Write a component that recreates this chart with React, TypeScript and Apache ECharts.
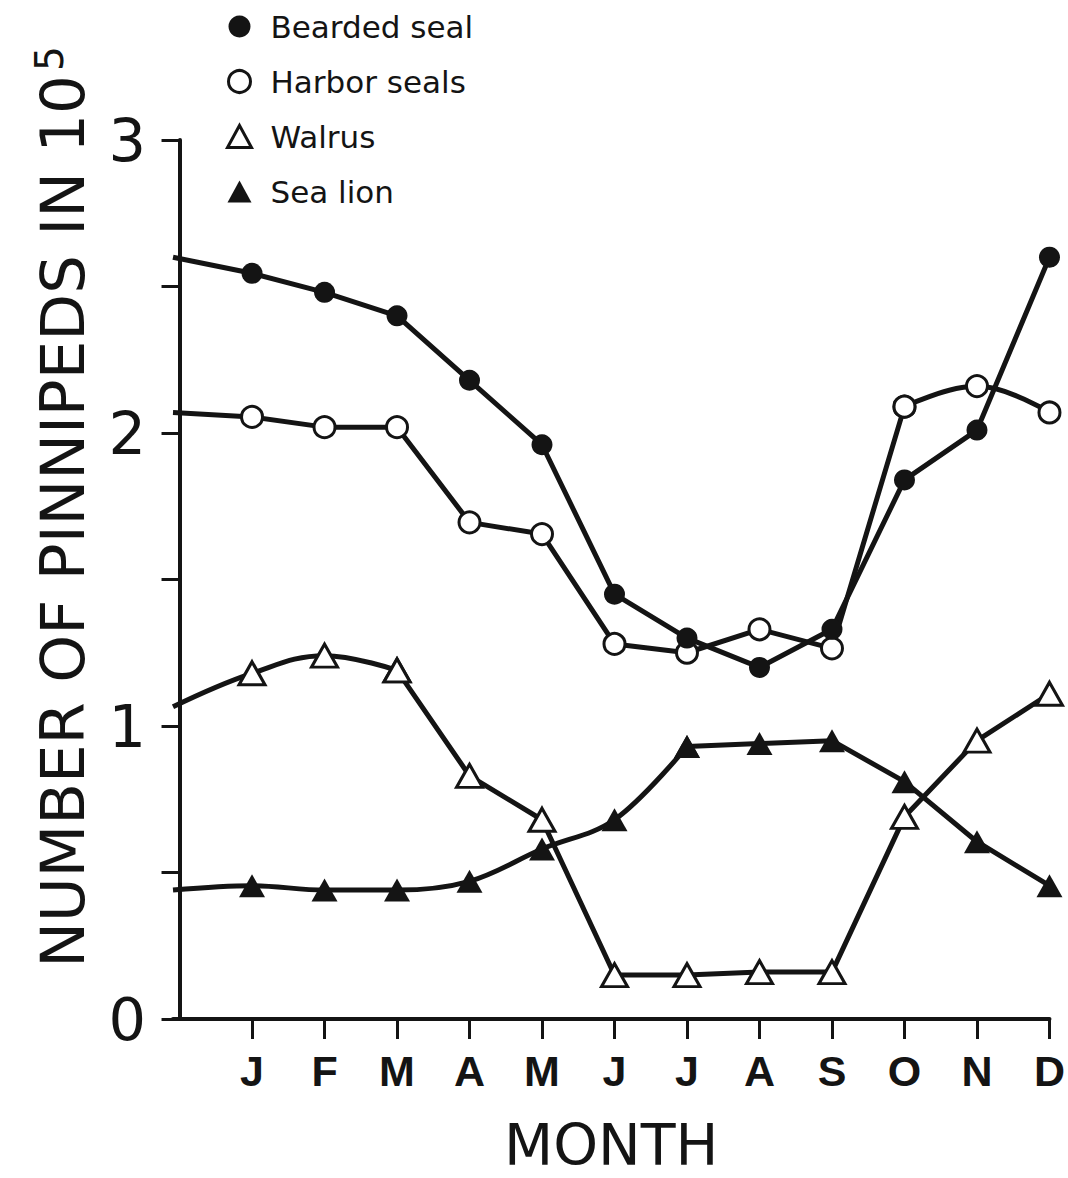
import React, { useEffect, useRef } from "react";
import * as echarts from "echarts";

// ---- data ----
const MONTHS = ["J", "F", "M", "A", "M", "J", "J", "A", "S", "O", "N", "D"];
const MONTH_POS = [1, 2, 3, 4, 5, 6, 7, 8, 9, 10, 11, 12];
const X_START = -0.09; // where the curves leave the y axis
const Y_TICK_LABELS = [0, 1, 2, 3];

const beardedStart = 2.6;
const bearded = [2.545, 2.48, 2.4, 2.18, 1.96, 1.45, 1.3, 1.2, 1.33, 1.84, 2.01, 2.6];
const harborStart = 2.07;
const harbor = [2.055, 2.02, 2.02, 1.695, 1.655, 1.28, 1.25, 1.33, 1.265, 2.09, 2.16, 2.07];
const walrusStart = 1.066;
const walrus = [1.18, 1.24, 1.19, 0.83, 0.68, 0.15, 0.15, 0.16, 0.16, 0.69, 0.95, 1.11];
const seaLionStart = 0.44;
const seaLion = [0.455, 0.44, 0.44, 0.47, 0.58, 0.68, 0.93, 0.94, 0.95, 0.81, 0.605, 0.455];

const INK = "#141414";
const FONT = "DejaVu Sans";

// full point list: index 0 = curve start on the y axis, 1..12 = months
function points(start: number, vals: number[]) {
  return [
    { value: [X_START, start], symbol: "none" },
    ...vals.map((v, i) => ({ value: [MONTH_POS[i], v] })),
  ];
}

export default function App() {
  const ref = useRef<HTMLDivElement>(null);
  useEffect(() => {
    document.body.style.margin = "0";
    const chart = echarts.init(ref.current!, null, { renderer: "svg" });
    const lineStyle = { color: INK, width: 5 };
    const openStyle = { color: "#fff", borderColor: INK, borderWidth: 3 };
    const filledStyle = { color: INK };

    const bPts = points(beardedStart, bearded);
    const hPts = points(harborStart, harbor);
    const wPts = points(walrusStart, walrus);
    const sPts = points(seaLionStart, seaLion);

    const seg = (
      name: string,
      data: any[],
      smooth: number | boolean,
      symbol: string,
      size: any,
      itemStyle: any,
      z: number
    ) => ({
      name,
      type: "line",
      smooth,
      data,
      symbol,
      symbolSize: size,
      itemStyle,
      lineStyle,
      z,
    });

    const tri = [26, 23];
    chart.setOption({
      animation: false,
      backgroundColor: "#ffffff",
      grid: { left: 173, right: 18, top: 140, bottom: 151, containLabel: false },
      legend: {
        orient: "vertical",
        left: 226,
        top: 11,
        itemWidth: 24,
        itemHeight: 22,
        itemGap: 24,
        padding: 0,
        selectedMode: false,
        textStyle: { fontSize: 31, fontFamily: FONT, color: INK, padding: [0, 0, 0, 14] },
        data: [
          { name: "Bearded seal", icon: "circle", itemStyle: { color: INK, borderWidth: 0 } },
          { name: "Harbor seals", icon: "circle", itemStyle: { color: "#fff", borderColor: INK, borderWidth: 3 } },
          { name: "Walrus", icon: "triangle", itemStyle: { color: "#fff", borderColor: INK, borderWidth: 3 } },
          { name: "Sea lion", icon: "triangle", itemStyle: { color: INK, borderWidth: 0 } },
        ],
      },
      xAxis: {
        type: "value",
        min: X_START,
        max: 12,
        splitLine: { show: false },
        axisLine: { onZero: false, lineStyle: { color: INK, width: 4 } },
        axisTick: { show: true, customValues: MONTH_POS, length: 20, lineStyle: { color: INK, width: 3 } },
        axisLabel: {
          customValues: MONTH_POS,
          formatter: (v: number) => MONTHS[Math.round(v) - 1] ?? "",
          margin: 30,
          fontSize: 43,
          fontWeight: "bold",
          fontFamily: "Liberation Sans Narrow, Liberation Sans",
          color: INK,
        },
        name: "MONTH",
        nameLocation: "middle",
        nameGap: 97,
        nameTextStyle: { fontSize: 57, fontFamily: FONT, color: INK },
      },
      yAxis: {
        type: "value",
        min: 0,
        max: 3,
        interval: 0.5,
        splitLine: { show: false },
        axisLine: { show: true, lineStyle: { color: INK, width: 4 } },
        axisTick: { show: true, length: 18, lineStyle: { color: INK, width: 3 } },
        axisLabel: {
          customValues: Y_TICK_LABELS,
          margin: 27,
          fontSize: 59,
          fontFamily: FONT,
          color: INK,
        },
      },
      graphic: [
        {
          type: "text",
          x: 62,
          y: 507,
          rotation: Math.PI / 2,
          style: {
            text: "NUMBER OF PINNIPEDS IN 10{sup|5}",
            fontSize: 61,
            fontFamily: FONT,
            fill: INK,
            textAlign: "center",
            textVerticalAlign: "middle",
            rich: {
              sup: { fontSize: 39, fontFamily: FONT, fill: INK, verticalAlign: "top", padding: [0, 0, 26, 4] },
            },
          },
        },
      ],
      series: [
        // Sea lion: curved rise up to July, straight afterwards
        seg("Sea lion", sPts.slice(0, 8), 0.35, "triangle", tri, filledStyle, 2),
        seg("Sea lion", sPts.slice(7), false, "triangle", tri, filledStyle, 2),
        // Walrus: curved Jan–Mar, straight afterwards
        seg("Walrus", wPts.slice(0, 4), 0.4, "triangle", tri, openStyle, 3),
        seg("Walrus", wPts.slice(3), false, "triangle", tri, openStyle, 3),
        // Harbor seals: straight to Oct, curved Oct–Dec
        seg("Harbor seals", hPts.slice(0, 11), false, "circle", 21, openStyle, 4),
        seg("Harbor seals", hPts.slice(10), 0.4, "circle", 21, openStyle, 4),
        // Bearded seal: straight
        seg("Bearded seal", bPts, false, "circle", 21, filledStyle, 5),
      ],
    });
    return () => chart.dispose();
  }, []);
  return <div ref={ref} style={{ width: 1068, height: 1178 }} />;
}
